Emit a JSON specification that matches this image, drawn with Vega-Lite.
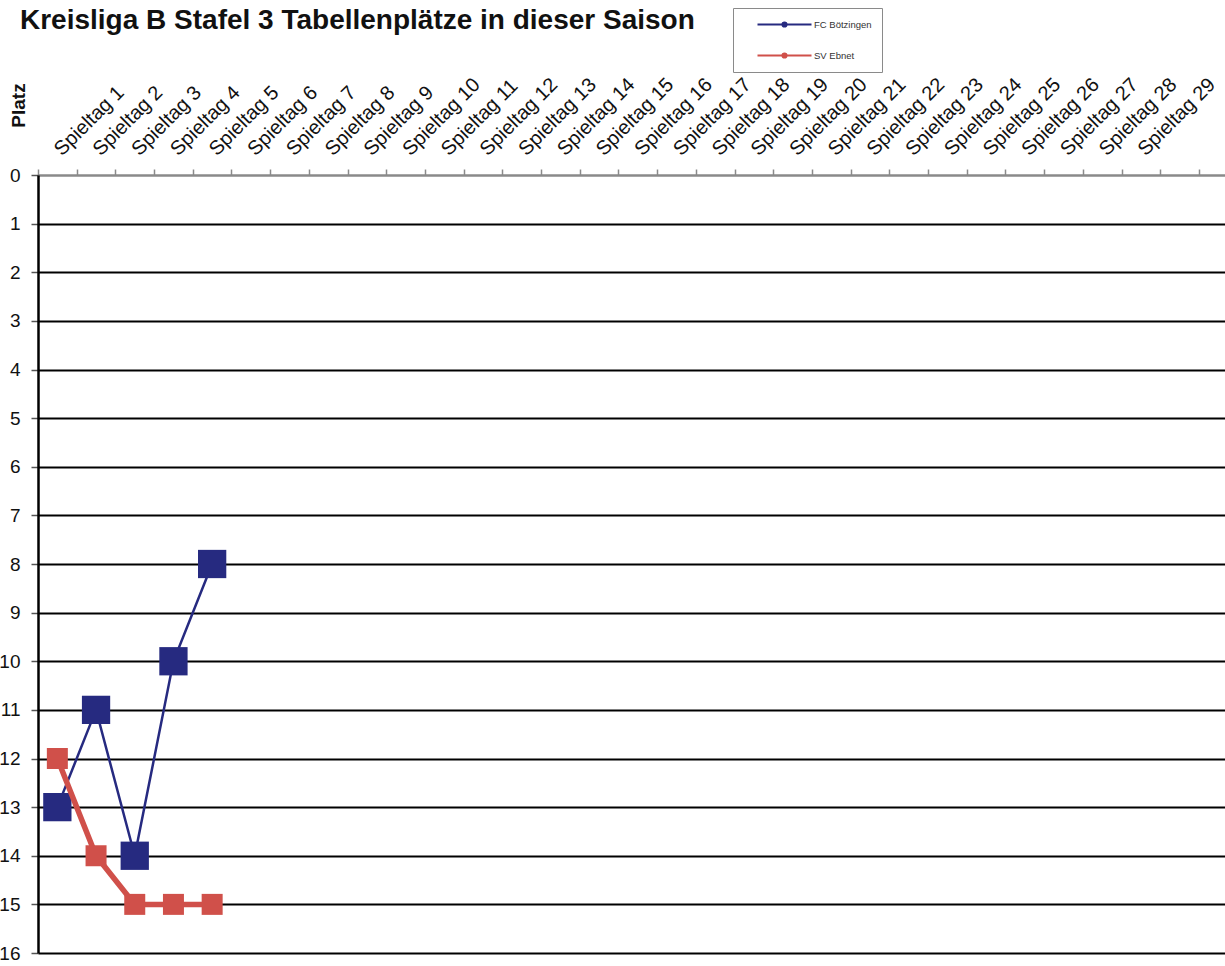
{
  "$schema": "https://vega.github.io/schema/vega-lite/v6.json",
  "autosize": {"type": "none"},
  "padding": {"left": 38, "top": 175, "right": 0, "bottom": 13},
  "width": 1187,
  "height": 778,
  "background": "white",
  "title": {
    "text": "Kreisliga B Stafel 3 Tabellenplätze in dieser Saison",
    "anchor": "start",
    "frame": "group",
    "font": "Liberation Sans",
    "fontSize": 28,
    "fontWeight": "bold",
    "color": "#111",
    "dx": -18,
    "dy": 35,
    "offset": 8
  },
  "data": {
    "values": [
      {"Spieltag": "Spieltag 1", "Team": "FC Bötzingen", "Platz": 13},
      {"Spieltag": "Spieltag 2", "Team": "FC Bötzingen", "Platz": 11},
      {"Spieltag": "Spieltag 3", "Team": "FC Bötzingen", "Platz": 14},
      {"Spieltag": "Spieltag 4", "Team": "FC Bötzingen", "Platz": 10},
      {"Spieltag": "Spieltag 5", "Team": "FC Bötzingen", "Platz": 8},
      {"Spieltag": "Spieltag 1", "Team": "SV Ebnet", "Platz": 12},
      {"Spieltag": "Spieltag 2", "Team": "SV Ebnet", "Platz": 14},
      {"Spieltag": "Spieltag 3", "Team": "SV Ebnet", "Platz": 15},
      {"Spieltag": "Spieltag 4", "Team": "SV Ebnet", "Platz": 15},
      {"Spieltag": "Spieltag 5", "Team": "SV Ebnet", "Platz": 15}
    ]
  },
  "encoding": {
    "x": {
      "field": "Spieltag",
      "type": "ordinal",
      "sort": null,
      "scale": {
        "type": "band",
        "domain": ["Spieltag 1","Spieltag 2","Spieltag 3","Spieltag 4","Spieltag 5","Spieltag 6","Spieltag 7","Spieltag 8","Spieltag 9","Spieltag 10","Spieltag 11","Spieltag 12","Spieltag 13","Spieltag 14","Spieltag 15","Spieltag 16","Spieltag 17","Spieltag 18","Spieltag 19","Spieltag 20","Spieltag 21","Spieltag 22","Spieltag 23","Spieltag 24","Spieltag 25","Spieltag 26","Spieltag 27","Spieltag 28","Spieltag 29","Spieltag 30"],
        "paddingInner": 0,
        "paddingOuter": 0.336,
        "align": 0
      },
      "axis": {
        "orient": "top",
        "title": null,
        "tickBand": "extent",
        "grid": false,
        "domainColor": "#8a8a8a",
        "domainWidth": 2,
        "tickColor": "#8a8a8a",
        "tickWidth": 1.5,
        "tickSize": 6,
        "labelAngle": -45,
        "labelAlign": "left",
        "labelBaseline": "middle",
        "labelPadding": 17,
        "labelFont": "Liberation Sans",
        "labelFontSize": 20,
        "labelColor": "#111",
        "labelOverlap": false,
        "labelBound": false,
        "labelLimit": 0,
        "labelExpr": "datum.label == 'Spieltag 30' ? '' : datum.label"
      }
    },
    "y": {
      "field": "Platz",
      "type": "quantitative",
      "scale": {"domain": [0, 16], "reverse": true, "nice": false, "zero": false},
      "axis": {
        "values": [0,1,2,3,4,5,6,7,8,9,10,11,12,13,14,15,16],
        "title": "Platz",
        "titleFont": "Liberation Sans",
        "titleFontSize": 19,
        "titleFontWeight": "bold",
        "titleColor": "#111",
        "titleAngle": 270,
        "titleAlign": "center",
        "titleBaseline": "middle",
        "titleX": -20,
        "titleY": -70,
        "grid": true,
        "gridColor": {"condition": {"test": "datum.value === 0", "value": "#8a8a8a"}, "value": "#000000"},
        "gridWidth": 2,
        "domainColor": "#000000",
        "domainWidth": 2.5,
        "tickColor": "#555",
        "tickWidth": 1.5,
        "tickSize": 7,
        "labelPadding": 11,
        "labelFont": "Liberation Sans",
        "labelFontSize": 19,
        "labelColor": "#111"
      }
    },
    "color": {
      "field": "Team",
      "type": "nominal",
      "scale": {"domain": ["FC Bötzingen", "SV Ebnet"], "range": ["#262a80", "#d0504a"]},
      "legend": {
        "title": null,
        "orient": "none",
        "legendX": 695,
        "legendY": -167,
        "direction": "vertical",
        "strokeColor": "#8a8a8a",
        "fillColor": "white",
        "padding": 10,
        "symbolType": "M-5.4,0H5.4M-0.4,0a0.4,0.4 0 1,0 0.8,0a0.4,0.4 0 1,0 -0.8,0",
        "symbolSize": 100,
        "symbolOffset": 35,
        "symbolStrokeWidth": 2.2,
        "symbolFillColor": "transparent",
        "labelFont": "Liberation Sans",
        "labelFontSize": 9.5,
        "labelColor": "#333",
        "labelOffset": 23,
        "rowPadding": 18,
        "offset": 0
      }
    }
  },
  "layer": [
    {
      "transform": [{"filter": "datum.Team == 'FC Bötzingen'"}],
      "mark": {"type": "line", "strokeWidth": 2.5}
    },
    {
      "transform": [{"filter": "datum.Team == 'FC Bötzingen'"}],
      "mark": {"type": "point", "shape": "square", "filled": true, "size": 800, "opacity": 1}
    },
    {
      "transform": [{"filter": "datum.Team == 'SV Ebnet'"}],
      "mark": {"type": "line", "strokeWidth": 5.5}
    },
    {
      "transform": [{"filter": "datum.Team == 'SV Ebnet'"}],
      "mark": {"type": "point", "shape": "square", "filled": true, "size": 441, "opacity": 1}
    }
  ]
}
